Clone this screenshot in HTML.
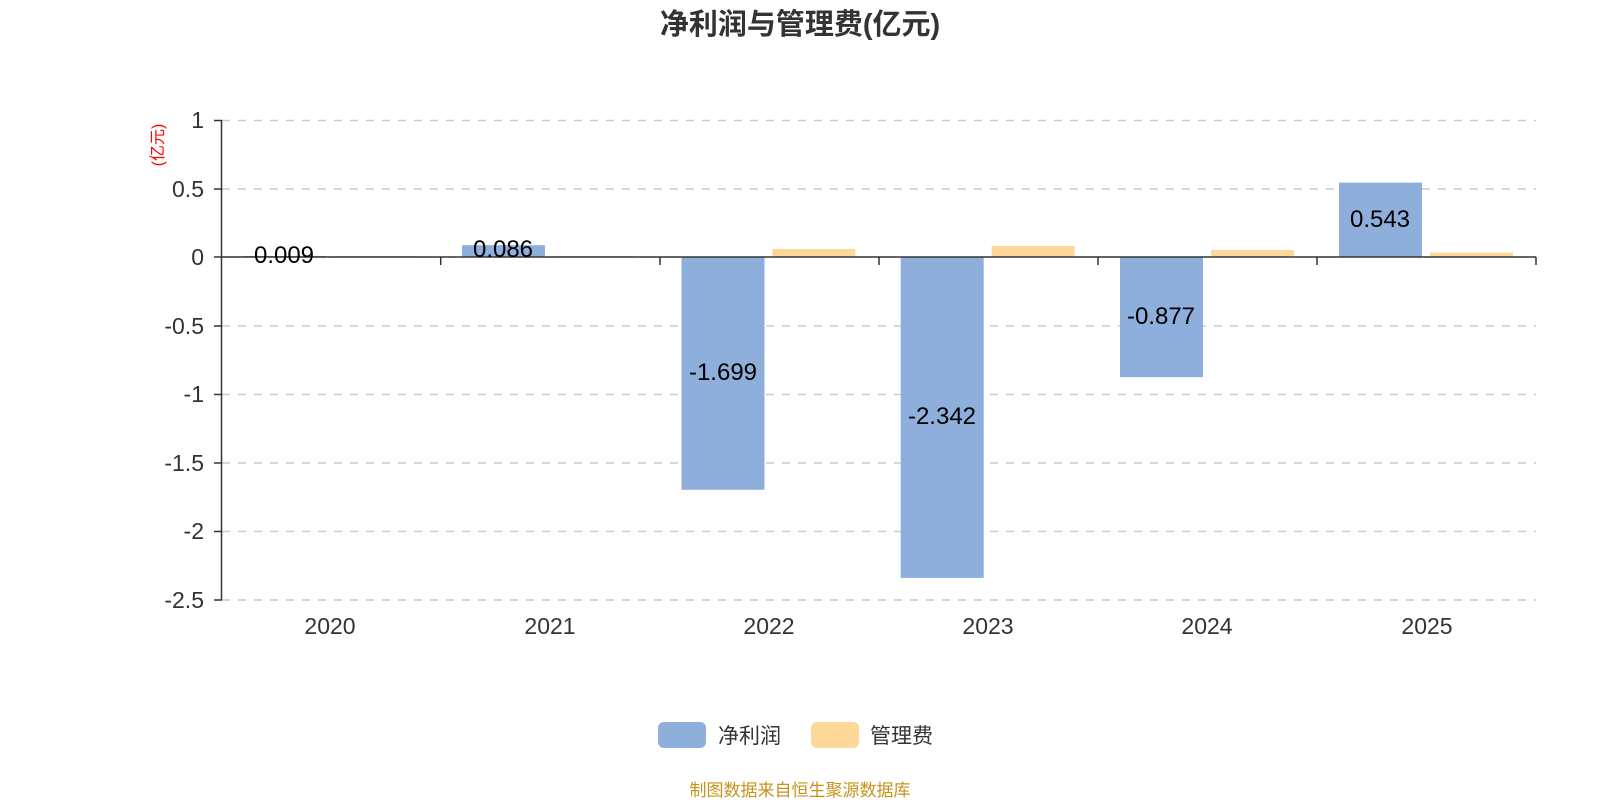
<!DOCTYPE html>
<html><head><meta charset="utf-8"><style>
body{margin:0;background:#fff;}
svg text{font-family:"Liberation Sans","Noto Sans CJK SC",sans-serif;}
</style></head><body>
<svg width="1600" height="800" xmlns="http://www.w3.org/2000/svg">
<text x="800" y="34" text-anchor="middle" font-size="29" font-weight="bold" fill="#333">净利润与管理费(亿元)</text>
<text transform="translate(163,145) rotate(-90)" text-anchor="middle" font-size="16" fill="#f00">(亿元)</text>
<g stroke="#ccc" stroke-width="1.5" stroke-dasharray="8,8">
<line x1="222" y1="120.5" x2="1536" y2="120.5"/>
<line x1="222" y1="189" x2="1536" y2="189"/>
<line x1="222" y1="326" x2="1536" y2="326"/>
<line x1="222" y1="394.5" x2="1536" y2="394.5"/>
<line x1="222" y1="463" x2="1536" y2="463"/>
<line x1="222" y1="531.5" x2="1536" y2="531.5"/>
<line x1="222" y1="600" x2="1536" y2="600"/>
</g>
<g font-size="23" fill="#333" text-anchor="end">
<text x="204" y="128">1</text><text x="204" y="197">0.5</text><text x="204" y="265">0</text>
<text x="204" y="334">-0.5</text><text x="204" y="402">-1</text><text x="204" y="471">-1.5</text>
<text x="204" y="539">-2</text><text x="204" y="608">-2.5</text>
</g>
<g fill="#8eaedb">
<rect x="243" y="256" width="83" height="1.5"/>
<rect x="462" y="245.2" width="83" height="11.8"/>
<rect x="681.5" y="257" width="83" height="232.8"/>
<rect x="900.7" y="257" width="83" height="320.9"/>
<rect x="1120" y="257" width="83" height="120.2"/>
<rect x="1339" y="182.6" width="83" height="74.4"/>
</g>
<g fill="#fdd898">
<rect x="334" y="256" width="83" height="1"/>
<rect x="553" y="256" width="83" height="1"/>
<rect x="772.4" y="249" width="83" height="8"/>
<rect x="991.6" y="246" width="83" height="11"/>
<rect x="1211" y="250" width="83" height="7"/>
<rect x="1430" y="252.5" width="83" height="4.5"/>
</g>
<g stroke="#333" stroke-width="1.5">
<line x1="221.5" y1="120" x2="221.5" y2="600"/>
<line x1="221" y1="257" x2="1536" y2="257"/>
<line x1="214" y1="120.5" x2="222" y2="120.5"/><line x1="214" y1="189" x2="222" y2="189"/>
<line x1="214" y1="257" x2="222" y2="257"/><line x1="214" y1="326" x2="222" y2="326"/>
<line x1="214" y1="394.5" x2="222" y2="394.5"/><line x1="214" y1="463" x2="222" y2="463"/>
<line x1="214" y1="531.5" x2="222" y2="531.5"/><line x1="214" y1="600" x2="222" y2="600"/>
<line x1="440.7" y1="257" x2="440.7" y2="265"/><line x1="660" y1="257" x2="660" y2="265"/>
<line x1="879" y1="257" x2="879" y2="265"/><line x1="1098" y1="257" x2="1098" y2="265"/>
<line x1="1317" y1="257" x2="1317" y2="265"/><line x1="1536" y1="257" x2="1536" y2="265"/>
</g>
<g font-size="24" fill="#000" text-anchor="middle">
<text x="284" y="263">0.009</text>
<text x="503" y="257">0.086</text>
<text x="723" y="380">-1.699</text>
<text x="942" y="424">-2.342</text>
<text x="1161" y="324">-0.877</text>
<text x="1380" y="227">0.543</text>
</g>
<g font-size="23" fill="#333" text-anchor="middle">
<text x="330" y="634">2020</text><text x="550" y="634">2021</text><text x="769" y="634">2022</text>
<text x="988" y="634">2023</text><text x="1207" y="634">2024</text><text x="1427" y="634">2025</text>
</g>
<rect x="658" y="722" width="48" height="26" rx="6" fill="#8eaedb"/>
<text x="718" y="743" font-size="21" fill="#333">净利润</text>
<rect x="811" y="722" width="48" height="26" rx="6" fill="#fdd898"/>
<text x="870" y="743" font-size="21" fill="#333">管理费</text>
<text x="800" y="796" text-anchor="middle" font-size="17" fill="#c8921a">制图数据来自恒生聚源数据库</text>
</svg>
</body></html>
